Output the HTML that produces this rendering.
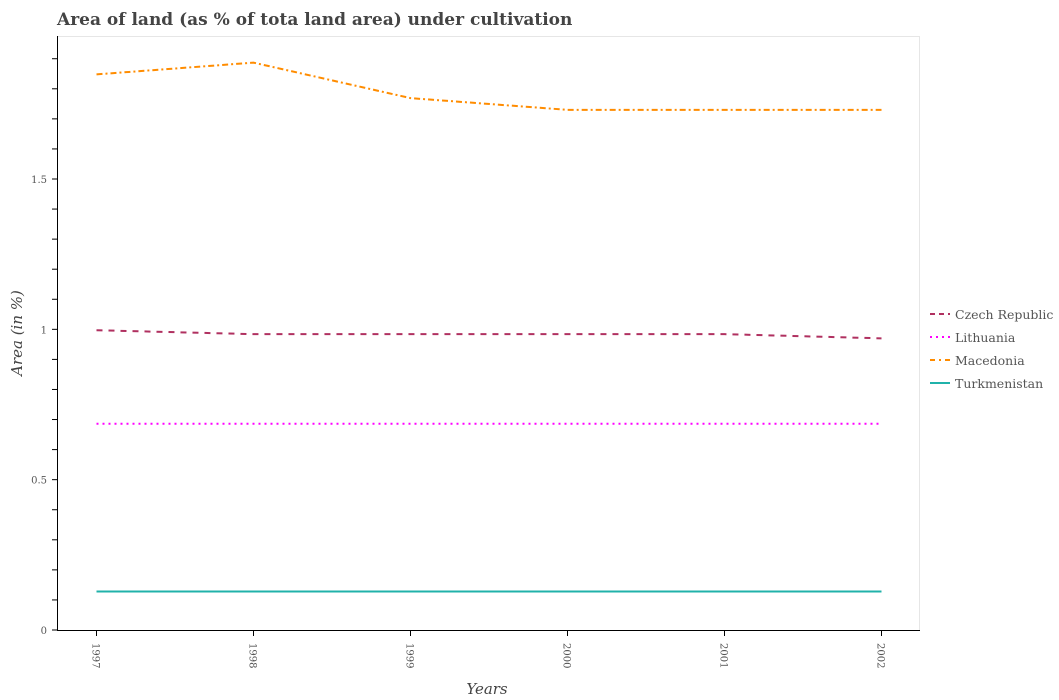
<!DOCTYPE html>
<html><head><meta charset="utf-8"><style>
body{margin:0;background:#fff;}
svg{display:block;font-family:"DejaVu Serif","Liberation Serif",serif;}
</style></head><body>
<svg width="1059" height="700" id="c">
<text x="57" y="25" font-size="17" font-weight="bold" fill="#444">Area of land (as % of tota land area) under cultivation</text>
<rect x="57.5" y="36.5" width="862" height="594" fill="none" stroke="#e6e6e6"/>
<g id="marks"></g>
<line x1="57.5" y1="36" x2="57.5" y2="630.5" stroke="#000"/>
<line x1="57" y1="630.5" x2="920" y2="630.5" stroke="#000"/>
<g id="ticks"></g>
<text x="487" y="694" font-size="15" font-style="italic" fill="#444" text-anchor="middle">Years</text>
<text transform="translate(22,333) rotate(-90)" font-size="15" font-style="italic" fill="#444" text-anchor="middle">Area (in %)</text>
<g id="legend"></g>
</svg>
<script>
const years=["1997","1998","1999","2000","2001","2002"];
const czech=[0.997,0.984,0.984,0.984,0.984,0.970];
const lithuania=[0.686,0.686,0.686,0.686,0.686,0.686];
const macedonia=[1.848,1.887,1.769,1.730,1.730,1.730];
const turkmenistan=[0.128,0.128,0.128,0.128,0.128,0.128];
const yTickLabels=["0","0.5","1","1.5"];
const ns="http://www.w3.org/2000/svg";
function X(i){return 96.5+i*157;}
function Y(v){return 630-v*300.67;}
function mk(t,a,p){const e=document.createElementNS(ns,t);for(const k in a)e.setAttribute(k,a[k]);p.appendChild(e);return e;}
const ticks=document.getElementById('ticks');
for(let k=0;k<=19;k++){const y=Y(k*0.1);const l=mk('line',{x1:52,x2:57.5,y1:y,y2:y,stroke:'#000'},ticks);

}
yTickLabels.forEach(s=>{const t=mk('text',{x:47,y:Y(parseFloat(s))+4,'font-size':10,fill:'#555','text-anchor':'end'},ticks);t.textContent=s;

});
years.forEach((yr,i)=>{const x=X(i);const l=mk('line',{x1:x,x2:x,y1:630,y2:636,stroke:'#000'},ticks);


const t=mk('text',{transform:`translate(${x-4},643) rotate(90)`,'font-size':10,fill:'#555'},ticks);t.textContent=yr;

});
const series=[["Czech Republic",czech,"#b03060","6,6"],["Lithuania",lithuania,"#ff00ff","2,4"],["Macedonia",macedonia,"#ff8c00","6,3,2,3"],["Turkmenistan",turkmenistan,"#20b2aa",""]];
const marks=document.getElementById('marks'),leg=document.getElementById('legend');
series.forEach((s,j)=>{const p=mk('polyline',{points:s[1].map((v,i)=>X(i)+','+Y(v)).join(' '),fill:'none',stroke:s[2],'stroke-width':2,'stroke-dasharray':s[3]},marks);


const y=314+j*23;const g=mk('g',{},leg);


mk('line',{x1:930,x2:950,y1:y,y2:y,stroke:s[2],'stroke-width':2,'stroke-dasharray':s[3]==="6,3,2,3"?"5,4,2,4":(s[3]==="6,6"?"5,4":s[3])},g);
const t=mk('text',{x:955,y:y+5,'font-size':12.5,fill:'#555'},g);t.textContent=s[0];});
</script>
</body></html>
